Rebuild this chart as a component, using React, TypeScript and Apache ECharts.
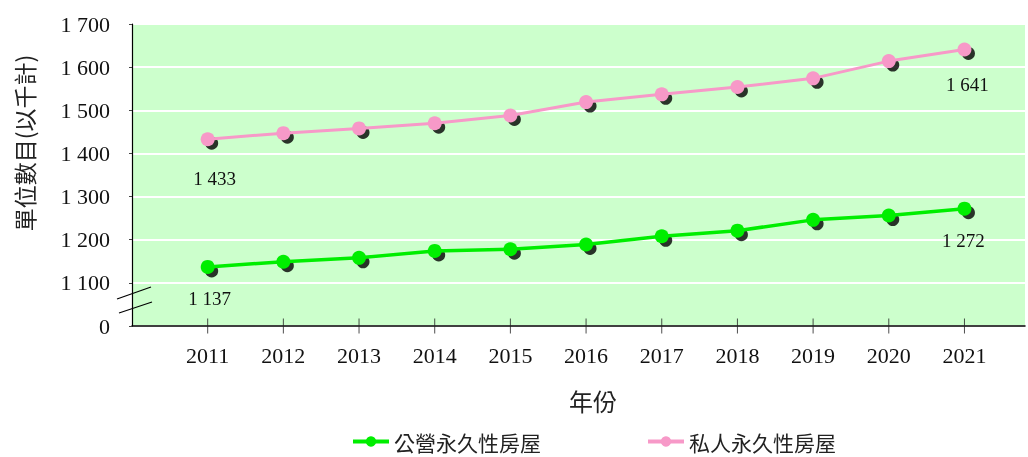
import React, { useEffect, useRef } from "react";
import * as echarts from "echarts";

const years = [2011, 2012, 2013, 2014, 2015, 2016, 2017, 2018, 2019, 2020, 2021];
const publicHousing = [1137, 1149, 1158, 1174, 1178, 1189, 1208, 1221, 1246, 1256, 1272];
const privateHousing = [1433, 1447, 1458, 1470, 1488, 1519, 1537, 1554, 1574, 1614, 1641];
const yTicks = [1000, 1100, 1200, 1300, 1400, 1500, 1600, 1700];
const seriesNames = ["公營永久性房屋", "私人永久性房屋"];
const axisNames = { y: "單位數目(以千計)", x: "年份" };

const GREEN = "#00ee00";
const PINK = "#f799c8";
const SERIF = "'Liberation Serif', 'Times New Roman', serif";
const CJK = "'Noto Sans CJK TC', 'Noto Sans CJK SC', sans-serif";

function fmt(v: number): string {
  if (v === yTicks[0]) return "0";
  const th = Math.floor(v / 1000);
  const rest = String(v % 1000).padStart(3, "0");
  return th > 0 ? `${th} ${rest}` : String(v);
}

export default function App() {
  const ref = useRef<HTMLDivElement>(null);
  useEffect(() => {
    if (!ref.current) return;
    const chart = echarts.init(ref.current, undefined, { renderer: "svg" });
    const last = years.length - 1;
    const mkData = (vals: number[], offsets: Record<number, number[]>) =>
      vals.map((v, i) => ({
        value: [years[i], v],
        label: {
          show: i === 0 || i === last,
          offset: offsets[i] || [0, 0],
        },
      }));
    const lineSeries = (name: string, vals: number[], color: string, width: number, offsets: Record<number, number[]>) => ({
      name,
      type: "line",
      data: mkData(vals, offsets),
      symbol: "circle",
      symbolSize: 14,
      z: 3,
      lineStyle: { color, width },
      itemStyle: { color },
      label: {
        position: "bottom",
        distance: 15,
        color: "#111",
        fontFamily: SERIF,
        fontSize: 19,
        formatter: (p: any) => fmt(p.value[1]),
      },
    });
    const shadowSeries = (vals: number[]) => ({
      type: "scatter",
      data: vals.map((v, i) => [years[i], v]),
      symbol: "circle",
      symbolSize: 13,
      symbolOffset: [4, 4],
      itemStyle: { color: "#000" },
      silent: true,
      z: 1,
      clip: false,
    });
    chart.setOption({
      animation: false,
      grid: {
        left: 132,
        right: 1,
        top: 24,
        bottom: 131,
        show: true,
        backgroundColor: "#ccffcc",
        borderWidth: 0,
      },
      legend: {
        data: seriesNames,
        left: 351,
        top: 431,
        padding: 0,
        itemWidth: 36,
        itemHeight: 13,
        itemGap: 105,
        lineStyle: { width: 4 },
        textStyle: {
          fontFamily: CJK,
          fontSize: 21,
          lineHeight: 21,
          color: "#222",
          padding: [0, 0, 0, 0],
        },
      },
      xAxis: {
        type: "value",
        min: 2010,
        max: 2021.8,
        interval: 1,
        axisLine: { show: true, lineStyle: { color: "#000", width: 1.5 } },
        axisTick: { show: false },
        splitLine: { show: false },
        axisLabel: {
          margin: 18,
          color: "#111",
          fontFamily: SERIF,
          fontSize: 22,
          formatter: (v: number) => (years.includes(v) ? String(v) : ""),
        },
      },
      yAxis: {
        type: "value",
        min: yTicks[0],
        max: yTicks[yTicks.length - 1],
        interval: 100,
        axisLine: { show: true, lineStyle: { color: "#000", width: 1.2 } },
        axisTick: { show: true, length: 3, lineStyle: { color: "#444" } },
        splitLine: { show: true, lineStyle: { color: "#ffffff", width: 2 } },
        axisLabel: {
          margin: 22,
          color: "#111",
          fontFamily: SERIF,
          fontSize: 22,
          formatter: (v: number) => fmt(v),
        },
      },
      graphic: [
        {
          type: "text",
          x: 24,
          y: 143,
          rotation: Math.PI / 2,
          style: {
            text: axisNames.y,
            fontFamily: CJK,
            fontSize: 23,
            fill: "#222",
            align: "center",
            verticalAlign: "middle",
          },
        },
        {
          type: "text",
          x: 593,
          y: 400,
          style: {
            text: axisNames.x,
            fontFamily: CJK,
            fontSize: 24,
            fill: "#222",
            align: "center",
            verticalAlign: "middle",
          },
        },
        {
          type: "line",
          shape: { x1: 117, y1: 299, x2: 151, y2: 287 },
          style: { stroke: "#000", lineWidth: 1.3 },
        },
        {
          type: "line",
          shape: { x1: 119, y1: 313, x2: 152, y2: 302 },
          style: { stroke: "#000", lineWidth: 1.3 },
        },
      ],
      series: [
        {
          type: "scatter",
          data: years.map((y) => [y, yTicks[0]]),
          symbol: "rect",
          symbolSize: [1, 15],
          itemStyle: { color: "#222" },
          silent: true,
          clip: false,
          z: 5,
        },
        shadowSeries(publicHousing),
        shadowSeries(privateHousing),
        lineSeries(seriesNames[0], publicHousing, GREEN, 3.5, { 0: [2, 0], 10: [-1, 0] }),
        lineSeries(seriesNames[1], privateHousing, PINK, 3, { 0: [7, 8], 10: [3, 4] }),
      ],
    });
    return () => chart.dispose();
  }, []);
  return (
    <div
      ref={ref}
      style={{ position: "fixed", left: 0, top: 0, width: 1028, height: 457 }}
    />
  );
}
